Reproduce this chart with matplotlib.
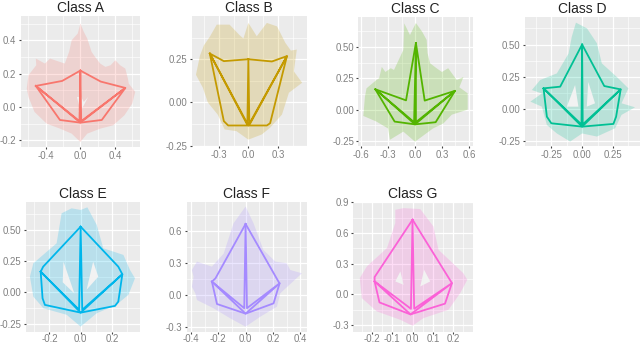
import numpy as np
import matplotlib
matplotlib.use("Agg")
import matplotlib.pyplot as plt

plt.rcParams['font.family'] = ['Liberation Sans', 'DejaVu Sans']

W, H = 640, 344

class_names = ["Class A", "Class B", "Class C", "Class D", "Class E", "Class F", "Class G"]
class_colors = ["#F8766D", "#C49A00", "#53B400", "#00C094", "#00B6EB", "#A58AFF", "#FB61D7"]

# Envelope outlines (x, y)
env_a = [(0,.50),(.04,.45),(.08,.41),(.13,.33),(.17,.30),(.23,.26),(.29,.24),(.35,.25),(.405,.28),(.46,.25),(.52,.23),(.55,.17),(.56,.14),(.635,.09),(.6,.02),(.51,-.05),(.38,-.11),(.23,-.13),(.08,-.16),(0,-.21),(-.1,-.16),(-.235,-.13),(-.39,-.10),(-.53,-.03),(-.6,.06),(-.62,.11),(-.6,.19),(-.51,.25),(-.515,.29),(-.41,.26),(-.35,.29),(-.295,.28),(-.18,.26),(-.13,.33),(-.1,.40),(-.03,.44)]
env_b = [(0,.46),(-.05,.37),(-.09,.39),(-.19,.45),(-.32,.45),(-.39,.38),(-.45,.33),(-.49,.27),(-.53,.16),(-.46,.085),(-.41,0),(-.31,-.07),(-.24,-.156),(-.12,-.166),(0,-.215),(.136,-.185),(.22,-.146),(.34,-.07),(.41,.056),(.544,.114),(.46,.18),(.49,.306),(.43,.30),(.374,.345),(.29,.44),(.187,.46),(.085,.383)]
env_c = [(.01,.69),(.08,.62),(.13,.555),(.14,.45),(.167,.37),(.24,.33),(.3,.30),(.37,.33),(.465,.236),(.54,.26),(.494,.178),(.587,.13),(.587,0),(.41,-.04),(.316,-.11),(.2,-.15),(0,-.255),(-.13,-.175),(-.28,-.24),(-.3,-.15),(-.43,-.095),(-.576,-.05),(-.558,.103),(-.54,.17),(-.43,.236),(-.40,.25),(-.37,.34),(-.33,.30),(-.27,.33),(-.234,.316),(-.13,.475),(-.12,.687),(-.056,.594)]
env_d = [(-.05,.67),(.04,.625),(.12,.51),(.16,.354),(.28,.25),(.376,.16),(.32,.044),(.43,.013),(.32,-.046),(.268,-.15),(.12,-.214),(0,-.19),(-.097,-.253),(-.205,-.19),(-.286,-.124),(-.327,.018),(-.42,.057),(-.327,.12),(-.408,.147),(-.34,.225),(-.205,.276),(-.11,.43),(-.084,.56)]
env_e = [(-.058,.672),(0,.659),(.043,.68),(.103,.539),(.145,.352),(.274,.299),(.316,.179),(.348,.112),(.306,-.02),(.23,-.1),(.103,-.168),(0,-.275),(-.09,-.18),(-.239,-.128),(-.303,-.035),(-.325,.125),(-.303,.232),(-.154,.392),(-.122,.632)]
env_f = [(0,.83),(.058,.673),(.13,.424),(.217,.315),(.30,.3),(.326,.237),(.411,.206),(.253,.019),(.229,-.106),(.107,-.2),(0,-.293),(-.112,-.215),(-.234,-.121),(-.355,-.044),(-.367,.019),(-.392,.08),(-.38,.174),(-.392,.237),(-.355,.315),(-.246,.268),(-.16,.39),(-.088,.673)]
env_g = [(-.085,.827),(-.044,.843),(.038,.834),(.103,.664),(.128,.436),(.25,.208),(.27,.143),(.235,.013),(.177,-.15),(.054,-.231),(0,-.306),(-.06,-.248),(-.176,-.166),(-.25,-.036),(-.26,.16),(-.225,.274),(-.126,.453),(-.085,.697)]

# Gaps in the envelopes
holes_a = [[(-.04,.06),(-.01,.0),(-.02,-.03),(.0,-.04),(.02,-.01),(.09,.06),(.04,.03),(.01,.06)]]
holes_b = []
holes_c = []
holes_d = [[(-.057,.186),(-.03,.018),(-.124,.018)], [(.05,.21),(.105,.044),(.038,.018)]]
holes_e = [[(-.11,.245),(-.04,-.01),(-.115,.08)], [(.08,.245),(.038,.02),(.113,.125)]]
holes_f = []
holes_g = [[(-.06,.225),(-.044,.094),(-.085,.127)], [(.057,.241),(.087,.127),(.038,.078)]]

# Mean outlines
mean_a = [(0,.218),(.236,.152),(.52,.114),(.248,-.078),(0,-.094),(-.236,-.078),(-.515,.126),(-.21,.156)]
mean_b = [(0,.25),(.238,.237),(.39,.268),(.22,-.12),(.187,-.133),(0,-.133),(-.204,-.133),(-.248,-.108),(-.39,.283),(-.248,.239)]
mean_c = [(.01,.53),(.108,.072),(.446,.15),(.23,-.10),(0,-.117),(-.227,-.095),(-.442,.162),(-.10,.074)]
mean_d = [(0,.50),(.18,.178),(.313,.152),(.276,-.06),(.254,-.116),(0,-.137),(-.25,-.111),(-.286,-.06),(-.313,.16),(-.178,.173)]
mean_e = [(0,.525),(.241,.205),(.267,.144),(.241,-.075),(.22,-.109),(0,-.163),(-.229,-.101),(-.244,-.048),(-.256,.165),(-.24,.205)]
mean_f = [(0,.667),(.24,.128),(.248,.112),(.204,-.075),(0,-.171),(-.209,-.081),(-.246,.128),(-.22,.159)]
mean_g = [(0,.73),(.189,.127),(.194,.11),(.16,-.09),(-.01,-.195),(-.163,-.078),(-.187,.127),(-.187,.17)]

# Inner spokes: left tip, inner left, top, inner right, right tip, bottom, left tip
spokes_a = [(-.515,.126),(-.01,-.085),(0,.218),(.01,-.085),(.52,.114),(0,-.094),(-.515,.126)]
spokes_b = [(-.39,.283),(-.01,-.13),(0,.25),(.01,-.13),(.39,.268),(0,-.133),(-.39,.283)]
spokes_c = [(-.442,.162),(-.01,-.10),(.01,.53),(.01,-.10),(.446,.15),(0,-.117),(-.442,.162)]
spokes_d = [(-.313,.16),(-.005,-.12),(0,.50),(.005,-.12),(.313,.152),(0,-.137),(-.313,.16)]
spokes_e = [(-.256,.165),(-.01,-.14),(0,.525),(.01,-.14),(.267,.144),(0,-.163),(-.256,.165)]
spokes_f = [(-.246,.128),(-.01,-.12),(0,.667),(.01,-.12),(.248,.112),(0,-.171),(-.246,.128)]
spokes_g = [(-.187,.127),(-.008,-.14),(0,.73),(.008,-.14),(.194,.11),(-.01,-.195),(-.187,.127)]

# Tick labels
xt_a = ["-0.4", "0.0", "0.4"]; yt_a = ["-0.2", "0.0", "0.2", "0.4"]
xt_b = ["-0.3", "0.0", "0.3"]; yt_b = ["-0.25", "0.00", "0.25"]
xt_c = ["-0.6", "-0.3", "0.0", "0.3", "0.6"]; yt_c = ["-0.25", "0.00", "0.25", "0.50"]
xt_d = ["-0.25", "0.00", "0.25"]; yt_d = ["-0.25", "0.00", "0.25", "0.50"]
xt_e = ["-0.2", "0.0", "0.2"]; yt_e = ["-0.25", "0.00", "0.25", "0.50"]
xt_f = ["-0.4", "-0.2", "0.0", "0.2", "0.4"]; yt_f = ["-0.3", "0.0", "0.3", "0.6"]
xt_g = ["-0.2", "-0.1", "0.0", "0.1", "0.2"]; yt_g = ["-0.3", "0.0", "0.3", "0.6", "0.9"]

envelopes = [env_a, env_b, env_c, env_d, env_e, env_f, env_g]
holes = [holes_a, holes_b, holes_c, holes_d, holes_e, holes_f, holes_g]
means = [mean_a, mean_b, mean_c, mean_d, mean_e, mean_f, mean_g]
spokes = [spokes_a, spokes_b, spokes_c, spokes_d, spokes_e, spokes_f, spokes_g]
xticks = [xt_a, xt_b, xt_c, xt_d, xt_e, xt_f, xt_g]
yticks = [yt_a, yt_b, yt_c, yt_d, yt_e, yt_f, yt_g]

# Panel boxes in pixels (left, top, right, bottom) and axis limits
boxes = [(20.7,16,140,147), (192,16,306.7,145.7), (358.3,16.7,472.7,145.7), (524.7,16.7,640,145.7),
         (26,201.7,140.3,331.5), (186.7,201.7,306.7,331.5), (353.3,202.3,473,331.5)]
xlims = [(-.69,.69), (-.57,.59), (-.632,.643), (-.466,.47), (-.35,.382), (-.43,.446), (-.292,.298)]
ylims = [(-.24,.545), (-.25,.50), (-.287,.74), (-.285,.716), (-.314,.725), (-.338,.875), (-.362,.90)]

fig = plt.figure(figsize=(W/100, H/100), dpi=100, facecolor="white")

for i, name in enumerate(class_names):
    l, t, r, b = boxes[i]
    ax = fig.add_axes([l/W, 1-b/H, (r-l)/W, (b-t)/H])
    ax.set_facecolor("#EBEBEB")
    for s in ax.spines.values():
        s.set_visible(False)
    ax.set_xlim(*xlims[i]); ax.set_ylim(*ylims[i])

    xv = [float(v) for v in xticks[i]]
    yv = [float(v) for v in yticks[i]]
    ax.set_xticks(xv, xticks[i]); ax.set_yticks(yv, yticks[i])
    xs = xv[1]-xv[0]; ys = yv[1]-yv[0]
    xm = [m for m in np.arange(xv[0]-xs*2.5, xv[-1]+xs*3, xs) if xlims[i][0] < m < xlims[i][1]]
    ym = [m for m in np.arange(yv[0]-ys*2.5, yv[-1]+ys*3, ys) if ylims[i][0] < m < ylims[i][1]]
    ax.set_xticks(xm, minor=True); ax.set_yticks(ym, minor=True)
    ax.tick_params(which="major", length=1.6, width=0.8, color="#444444", labelcolor="#808080",
                   labelsize=6.9)
    ax.tick_params(axis="x", which="major", pad=0.2 if i >= 4 else 1.2)
    ax.tick_params(axis="y", which="major", pad=1.5)
    ax.tick_params(which="minor", length=0)
    ax.grid(which="major", color="white", lw=0.9, zorder=1)
    ax.grid(which="minor", color="white", lw=0.45, zorder=1)
    ax.set_axisbelow(True)

    c = class_colors[i]
    ex, ey = zip(*envelopes[i])
    ax.fill(ex, ey, color=c, alpha=0.21, lw=0, zorder=2)
    for h in holes[i]:
        hx, hy = zip(*h)
        ax.fill(hx, hy, color="#F2F2F2", lw=0, zorder=3)

    mx, my = zip(*(means[i] + means[i][:1]))
    ax.plot(mx, my, color=c, lw=1.3, zorder=4, solid_joinstyle="round")
    sx, sy = zip(*spokes[i])
    ax.plot(sx, sy, color=c, lw=1.3, zorder=4, solid_joinstyle="round")

    ax.set_title(name, fontsize=10, color="#222222", pad=3)

fig.savefig("out.png", dpi=100, facecolor="white")
